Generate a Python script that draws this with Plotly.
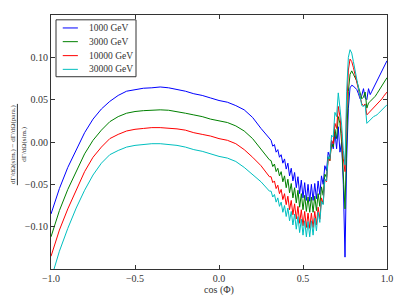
import plotly.graph_objects as go

COS_SMOOTH = [-1.00, -0.95, -0.90, -0.85, -0.80, -0.75, -0.70, -0.65, -0.60, -0.55,
              -0.50, -0.45, -0.40, -0.35, -0.30, -0.25, -0.20, -0.15, -0.10, -0.05,
              0.00, 0.05, 0.10, 0.15, 0.20, 0.25, 0.30]
COS_FINE = [0.31, 0.32, 0.33, 0.34, 0.35, 0.36, 0.37, 0.38, 0.39, 0.40,
            0.41, 0.42, 0.43, 0.44, 0.45, 0.46, 0.47, 0.48, 0.49, 0.50,
            0.51, 0.52, 0.53, 0.54, 0.55, 0.56, 0.57, 0.58, 0.59, 0.60,
            0.61, 0.62, 0.63, 0.64, 0.65, 0.66, 0.67, 0.68, 0.69, 0.70,
            0.71, 0.72, 0.73, 0.74, 0.75, 0.76, 0.77, 0.78, 0.79, 0.80,
            0.81, 0.82, 0.83, 0.84, 0.85, 0.86, 0.87, 0.88, 0.89, 0.90,
            0.91, 0.92, 0.93, 0.94, 0.95, 0.96, 0.97, 0.98, 0.99, 1.00]

SERIES_NAMES = ["1000 GeV", "3000 GeV", "10000 GeV", "30000 GeV"]

Y_1000 = [-0.085, -0.055, -0.030, -0.009, 0.011, 0.027, 0.039, 0.048, 0.055, 0.060,
          0.062, 0.0635, 0.064, 0.065, 0.064, 0.062, 0.060, 0.057, 0.055, 0.052,
          0.049, 0.047, 0.043, 0.038, 0.029, 0.016, 0.004,
          0.002, -0.005, -0.003, -0.012, -0.009, -0.018, -0.015, -0.025, -0.020, -0.032,
          -0.025, -0.040, -0.031, -0.046, -0.036, -0.054, -0.041, -0.061, -0.045, -0.066,
          -0.048, -0.069, -0.050, -0.070, -0.050, -0.069, -0.049, -0.067, -0.046, -0.062,
          -0.040, -0.050, -0.028, -0.034, -0.012, -0.018, 0.002, -0.008, 0.012, -0.008,
          0.018, -0.012, 0.000, -0.050, -0.136, -0.020, 0.040, 0.064, 0.067, 0.066,
          0.064, 0.062, 0.057, 0.051, 0.055, 0.063, 0.052, 0.050, 0.063, 0.056,
          0.060, 0.064, 0.068, 0.071, 0.075, 0.079, 0.083, 0.087, 0.091, 0.096]

Y_3000 = [-0.112, -0.081, -0.056, -0.034, -0.014, 0.002, 0.014, 0.024, 0.030, 0.034,
          0.036, 0.037, 0.0378, 0.038, 0.0375, 0.036, 0.034, 0.032, 0.030, 0.027,
          0.025, 0.023, 0.019, 0.013, 0.004, -0.009, -0.021,
          -0.022, -0.029, -0.026, -0.035, -0.031, -0.040, -0.035, -0.047, -0.040, -0.054,
          -0.044, -0.060, -0.049, -0.066, -0.054, -0.072, -0.057, -0.077, -0.061, -0.080,
          -0.063, -0.082, -0.065, -0.083, -0.065, -0.083, -0.064, -0.081, -0.061, -0.076,
          -0.053, -0.063, -0.038, -0.042, -0.018, -0.022, -0.002, -0.006, 0.015, 0.004,
          0.030, 0.022, 0.000, -0.040, -0.079, 0.000, 0.060, 0.080, 0.084, 0.080,
          0.076, 0.072, 0.065, 0.057, 0.051, 0.053, 0.059, 0.040, 0.046, 0.048,
          0.050, 0.051, 0.054, 0.057, 0.060, 0.063, 0.066, 0.069, 0.072, 0.076]

Y_10000 = [-0.135, -0.104, -0.079, -0.056, -0.035, -0.018, -0.006, 0.004, 0.009, 0.013,
           0.015, 0.016, 0.017, 0.017, 0.0165, 0.0155, 0.014, 0.011, 0.009, 0.007,
           0.004, 0.002, -0.002, -0.009, -0.018, -0.028, -0.041,
           -0.041, -0.048, -0.046, -0.055, -0.051, -0.061, -0.056, -0.068, -0.061, -0.074,
           -0.064, -0.080, -0.069, -0.086, -0.073, -0.091, -0.076, -0.096, -0.080, -0.099,
           -0.082, -0.101, -0.084, -0.102, -0.084, -0.101, -0.082, -0.098, -0.077, -0.091,
           -0.066, -0.073, -0.044, -0.047, -0.020, -0.022, 0.002, -0.002, 0.022, 0.016,
           0.042, 0.030, 0.010, -0.020, -0.035, 0.040, 0.085, 0.098, 0.095, 0.088,
           0.080, 0.071, 0.062, 0.053, 0.045, 0.043, 0.045, 0.032, 0.034, 0.036,
           0.038, 0.040, 0.042, 0.044, 0.046, 0.048, 0.051, 0.054, 0.056, 0.059]

Y_30000 = [-0.162, -0.129, -0.102, -0.078, -0.057, -0.039, -0.025, -0.015, -0.010, -0.006,
           -0.004, -0.003, -0.002, -0.002, -0.003, -0.004, -0.006, -0.009, -0.011, -0.014,
           -0.017, -0.019, -0.023, -0.030, -0.038, -0.047, -0.058,
           -0.058, -0.065, -0.062, -0.071, -0.066, -0.076, -0.071, -0.083, -0.075, -0.088,
           -0.078, -0.093, -0.082, -0.098, -0.085, -0.103, -0.088, -0.107, -0.091, -0.110,
           -0.093, -0.112, -0.094, -0.112, -0.093, -0.110, -0.090, -0.105, -0.083, -0.095,
           -0.070, -0.074, -0.044, -0.046, -0.017, -0.020, 0.008, 0.006, 0.035, 0.030,
           0.058, 0.040, 0.020, -0.010, -0.027, 0.060, 0.100, 0.109, 0.105, 0.095,
           0.085, 0.073, 0.062, 0.052, 0.043, 0.042, 0.044, 0.022, 0.024, 0.027,
           0.028, 0.030, 0.031, 0.032, 0.034, 0.036, 0.038, 0.040, 0.042, 0.044]

COLORS = ["#0000ff", "#008000", "#ff0000", "#00bfbf"]

X_TICKS = [-1.0, -0.5, 0.0, 0.5, 1.0]
X_TICK_LABELS = ["\u22121.0", "\u22120.5", "0.0", "0.5", "1.0"]
Y_TICKS = [-0.10, -0.05, 0.00, 0.05, 0.10]
Y_TICK_LABELS = ["\u22120.10", "\u22120.05", "0.00", "0.05", "0.10"]

cos_phi = COS_SMOOTH + COS_FINE
series = [Y_1000, Y_3000, Y_10000, Y_30000]

FONT = "Liberation Serif"
INK = "#333"

fig = go.Figure()
for name, ys, col in zip(SERIES_NAMES, series, COLORS):
    fig.add_trace(go.Scatter(x=cos_phi, y=ys, mode="lines", name=name,
                             line=dict(color=col, width=1), showlegend=False))

axis_common = dict(showline=True, linecolor=INK, linewidth=1, mirror="ticks",
                   ticks="inside", ticklen=4, tickcolor=INK, showgrid=False,
                   zeroline=False, tickfont=dict(family=FONT, size=10, color=INK))

fig.update_layout(
    width=407, height=305,
    margin=dict(l=51, r=20, t=15, b=31),
    paper_bgcolor="white", plot_bgcolor="white",
    font=dict(family=FONT, size=10, color=INK),
    xaxis=dict(range=[-1, 1], tickvals=X_TICKS, ticktext=X_TICK_LABELS,
               title=dict(text="cos (\u03a6)", font=dict(family=FONT, size=10), standoff=2),
               **axis_common),
    yaxis=dict(range=[-0.15, 0.15], tickvals=Y_TICKS, ticktext=Y_TICK_LABELS,
               **axis_common),
    showlegend=False,
)

# compact legend box (matplotlib style)
fig.add_shape(type="rect", xref="paper", yref="paper", x0=0.0149, x1=0.253,
              y0=0.757, y1=0.981, line=dict(color=INK, width=1), fillcolor="white",
              layer="above")
row_y = [0.949, 0.895, 0.840, 0.786]
for name, col, ry in zip(SERIES_NAMES, COLORS, row_y):
    fig.add_shape(type="line", xref="paper", yref="paper", x0=0.035, x1=0.080,
                  y0=ry, y1=ry, line=dict(color=col, width=1), layer="above")
    fig.add_annotation(xref="paper", yref="paper", x=0.107, y=ry, text=name,
                       showarrow=False, xanchor="left", yanchor="middle",
                       font=dict(family=FONT, size=9.5, color=INK))

# y-axis label as a stacked fraction
fig.add_annotation(xref="paper", yref="paper", x=-0.115, y=0.49,
                   text="d\u0393/d\u03a9(sim.) \u2212 d\u0393/d\u03a9(para.)",
                   textangle=-90, showarrow=False, xanchor="center", yanchor="middle",
                   font=dict(family=FONT, size=7, color=INK))
fig.add_annotation(xref="paper", yref="paper", x=-0.083, y=0.49,
                   text="d\u0393/d\u03a9(sim.)",
                   textangle=-90, showarrow=False, xanchor="center", yanchor="middle",
                   font=dict(family=FONT, size=7, color=INK))
fig.add_shape(type="line", xref="paper", yref="paper", x0=-0.100, x1=-0.100,
              y0=0.33, y1=0.65, line=dict(color=INK, width=1))

fig.write_html("out.html", config={"displayModeBar": False},
               post_script="document.body.style.margin='0';document.body.style.overflow='hidden';")
